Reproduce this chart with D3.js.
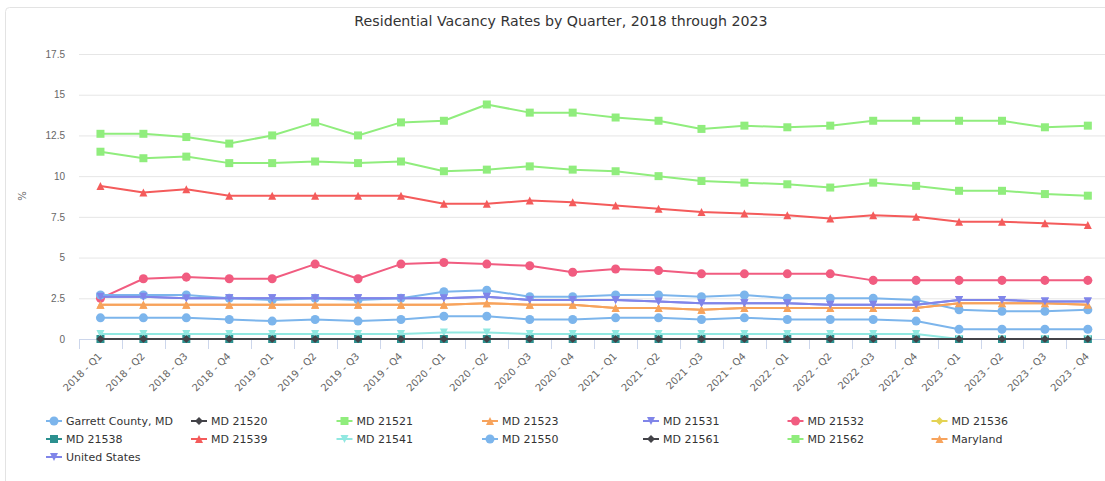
<!DOCTYPE html>
<html>
<head>
<meta charset="utf-8">
<script src="https://cdn.jsdelivr.net/npm/d3@7"></script>
<style>
  html, body { margin: 0; padding: 0; background: #fff; overflow: hidden; }
  svg { display: block; font-family: "DejaVu Sans", Verdana, sans-serif; }
</style>
</head>
<body>
<svg id="chart" width="1105" height="481"></svg>
<script>
// Quarterly categories
const categories = [
  "2018 - Q1", "2018 - Q2", "2018 - Q3", "2018 - Q4",
  "2019 - Q1", "2019 - Q2", "2019 - Q3", "2019 - Q4",
  "2020 - Q1", "2020 - Q2", "2020 -Q3", "2020 - Q4",
  "2021 - Q1", "2021 - Q2", "2021 -Q3", "2021 - Q4",
  "2022 - Q1", "2022 - Q2", "2022 -Q3", "2022 - Q4",
  "2023 - Q1", "2023 - Q2", "2023 - Q3", "2023 - Q4"
];

const yTicks = [0, 2.5, 5, 7.5, 10, 12.5, 15, 17.5];

// Residential vacancy rate (%) per area
const garrettCounty = [1.3, 1.3, 1.3, 1.2, 1.1, 1.2, 1.1, 1.2, 1.4, 1.4, 1.2, 1.2, 1.3, 1.3, 1.2, 1.3, 1.2, 1.2, 1.2, 1.1, 0.6, 0.6, 0.6, 0.6];
const md21520 = [0, 0, 0, 0, 0, 0, 0, 0, 0, 0, 0, 0, 0, 0, 0, 0, 0, 0, 0, 0, 0, 0, 0, 0];
const md21521 = [11.5, 11.1, 11.2, 10.8, 10.8, 10.9, 10.8, 10.9, 10.3, 10.4, 10.6, 10.4, 10.3, 10.0, 9.7, 9.6, 9.5, 9.3, 9.6, 9.4, 9.1, 9.1, 8.9, 8.8];
const md21523 = [2.1, 2.1, 2.1, 2.1, 2.1, 2.1, 2.1, 2.1, 2.1, 2.2, 2.1, 2.1, 1.9, 1.9, 1.8, 1.9, 1.9, 1.9, 1.9, 1.9, 2.2, 2.2, 2.2, 2.1];
const md21531 = [2.6, 2.6, 2.5, 2.5, 2.5, 2.5, 2.5, 2.5, 2.5, 2.6, 2.4, 2.4, 2.4, 2.3, 2.2, 2.2, 2.2, 2.1, 2.1, 2.1, 2.4, 2.4, 2.3, 2.3];
const md21532 = [2.5, 3.7, 3.8, 3.7, 3.7, 4.6, 3.7, 4.6, 4.7, 4.6, 4.5, 4.1, 4.3, 4.2, 4.0, 4.0, 4.0, 4.0, 3.6, 3.6, 3.6, 3.6, 3.6, 3.6];
const md21536 = [0, 0, 0, 0, 0, 0, 0, 0, 0, 0, 0, 0, 0, 0, 0, 0, 0, 0, 0, 0, 0, 0, 0, 0];
const md21538 = [0, 0, 0, 0, 0, 0, 0, 0, 0, 0, 0, 0, 0, 0, 0, 0, 0, 0, 0, 0, 0, 0, 0, 0];
const md21539 = [9.4, 9.0, 9.2, 8.8, 8.8, 8.8, 8.8, 8.8, 8.3, 8.3, 8.5, 8.4, 8.2, 8.0, 7.8, 7.7, 7.6, 7.4, 7.6, 7.5, 7.2, 7.2, 7.1, 7.0];
const md21541 = [0.3, 0.3, 0.3, 0.3, 0.3, 0.3, 0.3, 0.3, 0.4, 0.4, 0.3, 0.3, 0.3, 0.3, 0.3, 0.3, 0.3, 0.3, 0.3, 0.3, 0, 0, 0, 0];
const md21550 = [2.7, 2.7, 2.7, 2.5, 2.4, 2.5, 2.4, 2.5, 2.9, 3.0, 2.6, 2.6, 2.7, 2.7, 2.6, 2.7, 2.5, 2.5, 2.5, 2.4, 1.8, 1.7, 1.7, 1.8];
const md21561 = [0, 0, 0, 0, 0, 0, 0, 0, 0, 0, 0, 0, 0, 0, 0, 0, 0, 0, 0, 0, 0, 0, 0, 0];
const md21562 = [12.6, 12.6, 12.4, 12.0, 12.5, 13.3, 12.5, 13.3, 13.4, 14.4, 13.9, 13.9, 13.6, 13.4, 12.9, 13.1, 13.0, 13.1, 13.4, 13.4, 13.4, 13.4, 13.0, 13.1];
const maryland = [2.1, 2.1, 2.1, 2.1, 2.1, 2.1, 2.1, 2.1, 2.1, 2.2, 2.1, 2.1, 1.9, 1.9, 1.8, 1.9, 1.9, 1.9, 1.9, 1.9, 2.2, 2.2, 2.2, 2.1];
const unitedStates = [2.6, 2.6, 2.5, 2.5, 2.5, 2.5, 2.5, 2.5, 2.5, 2.6, 2.4, 2.4, 2.4, 2.3, 2.2, 2.2, 2.2, 2.1, 2.1, 2.1, 2.4, 2.4, 2.3, 2.3];

const seriesNames = [
  "Garrett County, MD", "MD 21520", "MD 21521", "MD 21523", "MD 21531",
  "MD 21532", "MD 21536", "MD 21538", "MD 21539", "MD 21541",
  "MD 21550", "MD 21561", "MD 21562", "Maryland", "United States"
];
const seriesValues = [
  garrettCounty, md21520, md21521, md21523, md21531,
  md21532, md21536, md21538, md21539, md21541,
  md21550, md21561, md21562, maryland, unitedStates
];

// Palette and marker shapes cycle through the series
const palette = ["#7cb5ec", "#434348", "#90ed7d", "#f7a35c", "#8085e9",
                 "#f15c80", "#e4d354", "#2b908f", "#f45b5b", "#91e8e1"];

const shapeCircle = { draw(ctx, size) { const r = Math.sqrt(size / Math.PI); ctx.moveTo(r, 0); ctx.arc(0, 0, r, 0, 2 * Math.PI); } };
const shapeDiamond = { draw(ctx, size) { const r = Math.sqrt(size) / 2; ctx.moveTo(0, -r); ctx.lineTo(r, 0); ctx.lineTo(0, r); ctx.lineTo(-r, 0); ctx.closePath(); } };
const shapeSquare = { draw(ctx, size) { const r = Math.sqrt(size) / 2; ctx.rect(-r, -r, 2 * r, 2 * r); } };
const shapeTriangle = { draw(ctx, size) { const r = Math.sqrt(size) / 2; ctx.moveTo(0, -r); ctx.lineTo(r, r); ctx.lineTo(-r, r); ctx.closePath(); } };
const shapeTriangleDown = { draw(ctx, size) { const r = Math.sqrt(size) / 2; ctx.moveTo(-r, -r); ctx.lineTo(r, -r); ctx.lineTo(0, r); ctx.closePath(); } };
const shapes = [shapeCircle, shapeDiamond, shapeSquare, shapeTriangle, shapeTriangleDown];

const series = seriesNames.map((name, i) => ({
  name,
  values: seriesValues[i],
  color: palette[i % palette.length],
  shape: shapes[i % shapes.length]
}));

const svg = d3.select("#chart");
const plot = { left: 79, right: 1109.3, top: 54, bottom: 339 };

// Chart frame
svg.append("rect")
  .attr("x", 5.5).attr("y", 7.5)
  .attr("width", 1120).attr("height", 500)
  .attr("rx", 4).attr("ry", 4)
  .attr("fill", "#fff").attr("stroke", "#e3e3e3");

// Title
svg.append("text")
  .attr("x", 561).attr("y", 26)
  .attr("text-anchor", "middle")
  .attr("fill", "#333333")
  .style("font-size", "14.2px")
  .text("Residential Vacancy Rates by Quarter, 2018 through 2023");

const x = d3.scaleBand().domain(categories).range([plot.left, plot.right]);
const y = d3.scaleLinear().domain([0, 17.5]).range([plot.bottom, plot.top]);

// Y axis with horizontal grid lines
const yAxis = svg.append("g")
  .attr("transform", `translate(${plot.left},0)`)
  .call(d3.axisLeft(y).tickValues(yTicks).tickSize(-(plot.right - plot.left)).tickPadding(14).tickFormat(d3.format("~g")));
yAxis.select(".domain").remove();
yAxis.selectAll(".tick line").attr("stroke", "#e6e6e6");
yAxis.selectAll(".tick text").attr("fill", "#666666").style("font-size", "10px").attr("font-family", null);

// Y axis title
svg.append("text")
  .attr("transform", "translate(26,196) rotate(-90)")
  .attr("text-anchor", "middle")
  .attr("fill", "#666666")
  .style("font-size", "10px")
  .text("%");

// X axis: ticks between categories, rotated labels
const xg = svg.append("g").attr("transform", `translate(0,${plot.bottom})`);
xg.append("line")
  .attr("x1", plot.left).attr("x2", plot.right)
  .attr("y1", 0.5).attr("y2", 0.5)
  .attr("stroke", "#ccd6eb");
xg.selectAll("line.tk")
  .data(categories.concat([null]))
  .join("line")
  .attr("class", "tk")
  .attr("x1", (d, i) => Math.round(plot.left + i * x.step()) + 0.5)
  .attr("x2", (d, i) => Math.round(plot.left + i * x.step()) + 0.5)
  .attr("y1", 0).attr("y2", 10)
  .attr("stroke", "#ccd6eb");
xg.selectAll("text")
  .data(categories)
  .join("text")
  .attr("transform", d => `translate(${x(d) + x.bandwidth() / 2 + 2},18) rotate(-45)`)
  .attr("text-anchor", "end")
  .attr("fill", "#666666")
  .style("font-size", "10px")
  .text(d => d);

// Series lines and markers
const line = d3.line()
  .x((d, i) => x(categories[i]) + x.bandwidth() / 2)
  .y(d => y(d));

const seriesG = svg.append("g");
series.forEach(s => {
  const g = seriesG.append("g");
  g.append("path")
    .datum(s.values)
    .attr("d", line)
    .attr("fill", "none")
    .attr("stroke", s.color)
    .attr("stroke-width", 2)
    .attr("stroke-linejoin", "round")
    .attr("stroke-linecap", "round");
  g.selectAll("path.pt")
    .data(s.values)
    .join("path")
    .attr("class", "pt")
    .attr("transform", (d, i) => `translate(${x(categories[i]) + x.bandwidth() / 2},${y(d)})`)
    .attr("d", d3.symbol().type(s.shape).size(64))
    .attr("fill", s.color);
});

// Legend: seven items per row
const legendCols = [46, 191, 336.5, 482, 643, 787.5, 931.5];
const legendRows = [421, 439, 457];
const legend = svg.append("g");
series.forEach((s, i) => {
  const lx = legendCols[i % 7];
  const ly = legendRows[Math.floor(i / 7)];
  const item = legend.append("g").attr("transform", `translate(${lx},${ly})`);
  item.append("line")
    .attr("x1", 0).attr("x2", 16).attr("y1", 0).attr("y2", 0)
    .attr("stroke", s.color).attr("stroke-width", 2);
  item.append("path")
    .attr("transform", "translate(8,0)")
    .attr("d", d3.symbol().type(s.shape).size(64))
    .attr("fill", s.color);
  item.append("text")
    .attr("x", 20).attr("y", 4)
    .attr("fill", "#333333")
    .style("font-size", "11px")
    .text(s.name);
});
</script>
</body>
</html>
